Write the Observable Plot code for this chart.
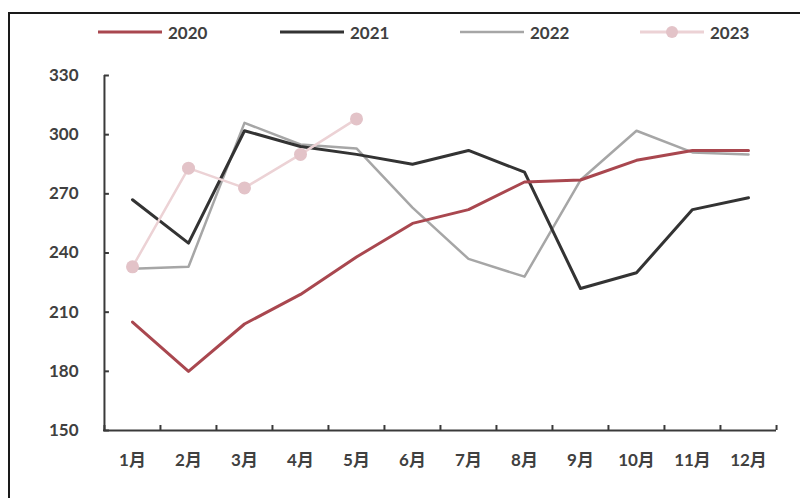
<!DOCTYPE html>
<html>
<head>
<meta charset="utf-8">
<script src="https://cdn.jsdelivr.net/npm/d3@7"></script>
<script src="https://cdn.jsdelivr.net/npm/@observablehq/plot@0.6"></script>
<style>
  html, body { margin: 0; padding: 0; background: #fff; }
  #wrap { position: relative; width: 800px; height: 498px; overflow: hidden; background: #fff; }
  #box { position: absolute; left: 8px; top: 12px; width: 820px; height: 520px;
         border-left: 2px solid #1a1a1a; border-top: 2px solid #1a1a1a; box-sizing: border-box; }
  #legend { position: absolute; top: 20px; left: 0; width: 800px; height: 24px; z-index: 2;
            font-family: Lato, "Noto Sans CJK SC", sans-serif; font-weight: 700; font-size: 17px; color: #404040; }
  .item { position: absolute; top: 0; display: flex; align-items: center; height: 24px; }
  .item svg { margin-right: 6px; }
  #chart { position: absolute; left: 0; top: 0; }
</style>
</head>
<body>
<div id="wrap">
  <div id="box"></div>
  <div id="legend"></div>
  <div id="chart"></div>
</div>
<script>
// Monthly values, 2020–2023
const months = ["1月","2月","3月","4月","5月","6月","7月","8月","9月","10月","11月","12月"];
const y2020 = [205, 180, 204, 219, 238, 255, 262, 276, 277, 287, 292, 292];
const y2021 = [267, 245, 302, 294, 290, 285, 292, 281, 222, 230, 262, 268];
const y2022 = [232, 233, 306, 295, 293, 263, 237, 228, 277, 302, 291, 290];
const y2023 = [233, 283, 273, 290, 308];
const yTicks = [150, 180, 210, 240, 270, 300, 330];
const seriesNames = ["2020", "2021", "2022", "2023"];

const colors = {"2020": "#a9474f", "2021": "#333333", "2022": "#a6a6a6", "2023": "#ecd2d5"};
const dotFill = "#e3c3c8";
const axisColor = "#3a3a3a";

const rows = (name, vals) => vals.map((v, i) => ({series: name, month: months[i], value: v}));
const d2020 = rows("2020", y2020);
const d2021 = rows("2021", y2021);
const d2022 = rows("2022", y2022);
const d2023 = rows("2023", y2023);

const W = 800, H = 498;
const mL = 103, mR = 24, mT = 75, mB = 68;
const plotH = H - mT - mB;
const bw = (W - mL - mR) / months.length;
const tickLen = 5;
const font = 'Lato, "Noto Sans CJK SC", sans-serif';

const chart = Plot.plot({
  width: W,
  height: H,
  marginLeft: mL,
  marginRight: mR,
  marginTop: mT,
  marginBottom: mB,
  style: {fontFamily: font, fontSize: "17px", fontWeight: "700", color: "#404040", background: "transparent"},
  x: {type: "band", domain: months, padding: 0, label: null},
  y: {domain: [150, 330], label: null},
  marks: [
    // axis lines
    Plot.ruleY([150], {stroke: axisColor, strokeWidth: 2}),
    Plot.tickY(yTicks, {y: d => d, x: () => months[0], insetRight: bw - tickLen, stroke: axisColor, strokeWidth: 2}),
    Plot.ruleX([months[0]], {y1: 150, y2: 330, dx: -bw / 2, stroke: axisColor, strokeWidth: 2}),
    // x ticks on category boundaries, pointing up into the plot
    Plot.ruleX(months, {x: d => d, y1: 330, y2: 150, insetTop: plotH - tickLen, dx: -bw / 2, stroke: axisColor, strokeWidth: 2}),
    Plot.ruleX([months[months.length - 1]], {x: d => d, y1: 330, y2: 150, insetTop: plotH - tickLen, dx: bw / 2, stroke: axisColor, strokeWidth: 2}),
    // tick labels
    Plot.axisY({ticks: yTicks, tickSize: 0, tickPadding: 25, fill: "#404040"}),
    Plot.axisX({tickSize: 0, tickPadding: 23, fill: "#404040"}),
    // series
    Plot.line(d2022, {x: "month", y: "value", stroke: colors["2022"], strokeWidth: 2.5}),
    Plot.line(d2021, {x: "month", y: "value", stroke: colors["2021"], strokeWidth: 3}),
    Plot.line(d2020, {x: "month", y: "value", stroke: colors["2020"], strokeWidth: 3}),
    Plot.line(d2023, {x: "month", y: "value", stroke: colors["2023"], strokeWidth: 2.5}),
    Plot.dot(d2023, {x: "month", y: "value", r: 6.5, fill: dotFill, stroke: "none"})
  ]
});
document.getElementById("chart").appendChild(chart);

// legend
const legend = document.getElementById("legend");
const legendX = {"2020": 98, "2021": 280, "2022": 460, "2023": 640};
for (const name of seriesNames) {
  const item = document.createElement("div");
  item.className = "item";
  item.style.left = legendX[name] + "px";
  const sw = d3.create("svg").attr("width", 64).attr("height", 16);
  sw.append("line").attr("x1", 0).attr("x2", 64).attr("y1", 8).attr("y2", 8)
    .attr("stroke", colors[name]).attr("stroke-width", name === "2022" ? 2.5 : 3);
  if (name === "2023") sw.append("circle").attr("cx", 32).attr("cy", 8).attr("r", 6).attr("fill", dotFill);
  item.appendChild(sw.node());
  const t = document.createElement("span");
  t.textContent = name;
  item.appendChild(t);
  legend.appendChild(item);
}
</script>
</body>
</html>
